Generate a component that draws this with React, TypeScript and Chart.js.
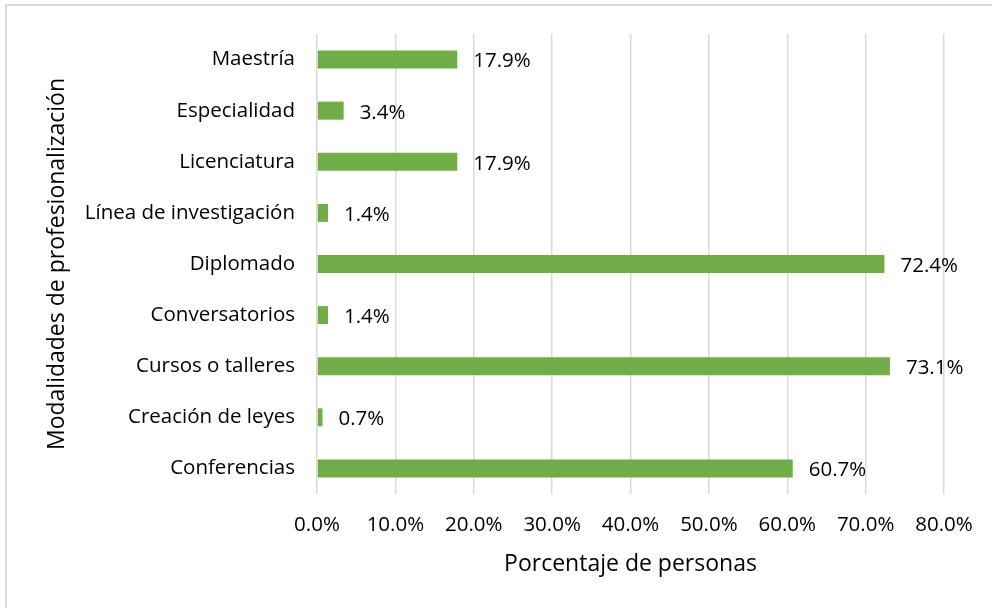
import React, { useEffect, useRef } from "react";
import { Chart, registerables } from "chart.js";

Chart.register(...registerables);

const categories = [
  "Maestría",
  "Especialidad",
  "Licenciatura",
  "Línea de investigación",
  "Diplomado",
  "Conversatorios",
  "Cursos o talleres",
  "Creación de leyes",
  "Conferencias",
];
const values = [17.9, 3.4, 17.9, 1.4, 72.4, 1.4, 73.1, 0.7, 60.7];
const xTitle = "Porcentaje de personas";
const yTitle = "Modalidades de profesionalización";

const FONT = "'Open Sans', sans-serif";

const frame = {
  id: "frame",
  beforeDraw(chart: any) {
    const c = chart.ctx;
    c.save();
    c.fillStyle = "#ffffff";
    c.fillRect(0, 0, chart.width, chart.height);
    c.strokeStyle = "#d9d9d9";
    c.lineWidth = 2;
    c.beginPath();
    c.moveTo(chart.width, 5);
    c.lineTo(6, 5);
    c.lineTo(6, chart.height);
    c.stroke();
    c.restore();
  },
};

const labels = {
  id: "valueLabels",
  afterDatasetsDraw(chart: any) {
    const c = chart.ctx;
    const meta = chart.getDatasetMeta(0);
    c.save();
    c.fillStyle = "#000000";
    c.font = `20.5px ${FONT}`;
    c.textAlign = "left";
    c.textBaseline = "middle";
    meta.data.forEach((bar: any, i: number) => {
      c.fillText(values[i].toFixed(1) + "%", bar.x + 16, bar.y + 2);
    });
    c.restore();
  },
};

export default function App() {
  const ref = useRef<HTMLCanvasElement>(null);
  useEffect(() => {
    document.body.style.margin = "0";
    const chart = new Chart(ref.current!, {
      type: "bar",
      data: {
        labels: categories,
        datasets: [
          {
            data: values,
            backgroundColor: "#70AD47",
            borderWidth: 0,
            barPercentage: 0.352,
            categoryPercentage: 1,
          },
        ],
      },
      options: {
        indexAxis: "y",
        animation: false,
        responsive: false,
        maintainAspectRatio: false,
        layout: { padding: { left: 5, right: 48, top: 34, bottom: 0 } },
        plugins: {
          legend: { display: false },
          tooltip: { enabled: false },
        },
        scales: {
          x: {
            min: 0,
            max: 80,
            ticks: {
              stepSize: 10,
              color: "#000000",
              font: { family: FONT, size: 20.5 },
              padding: 19,
              callback: (v: any) => Number(v).toFixed(1) + "%",
            },
            grid: { color: "#d9d9d9", lineWidth: 1.5, drawTicks: false },
            border: { display: false },
            title: {
              display: true,
              text: xTitle,
              color: "#000000",
              font: { family: FONT, size: 23 },
              padding: 30,
            },
            afterFit: (s: any) => {
              s.height = 608 - 494;
            },
          },
          y: {
            ticks: {
              color: "#000000",
              font: { family: FONT, size: 20.5 },
              padding: 14,
            },
            grid: { display: false },
            border: { display: false },
            title: {
              display: true,
              text: yTitle,
              color: "#000000",
              font: { family: FONT, size: 23 },
              padding: 39,
            },
            afterFit: (s: any) => {
              s.width = 317 - 5;
            },
          },
        },
      },
      plugins: [frame, labels],
    });
    return () => chart.destroy();
  }, []);
  return (
    <div style={{ width: 992, height: 608 }}>
      <canvas ref={ref} width={992} height={608} />
    </div>
  );
}
